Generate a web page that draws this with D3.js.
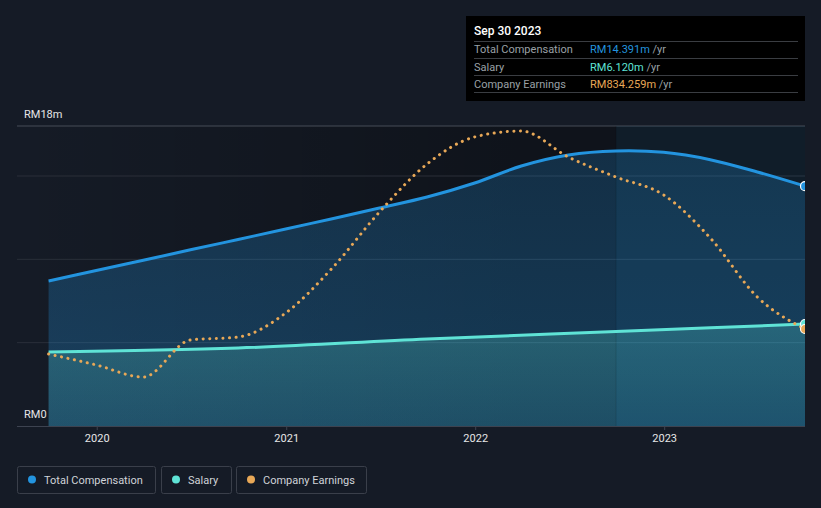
<!DOCTYPE html>
<html><head><meta charset="utf-8">
<script src="https://cdn.jsdelivr.net/npm/d3@7"></script>
<style>
html,body{margin:0;padding:0;background:#151b26;}
svg{display:block;font-family:Roboto,"Noto Sans",sans-serif;}
</style></head>
<body>
<svg id="chart" width="821" height="508"></svg>
<script>
// ---- data ----
const dates = ["2019-09-30","2019-12-31","2020-03-31","2020-06-30","2020-09-30","2020-12-31","2021-03-31","2021-06-30","2021-09-30","2021-12-31","2022-03-31","2022-06-30","2022-09-30","2022-12-31","2023-03-31","2023-06-30","2023-09-30"];
const totalComp = [8.70,9.33,9.94,10.57,11.19,11.82,12.44,13.08,13.74,14.58,15.60,16.26,16.50,16.42,15.98,15.24,14.391];
const salaryDates = ["2019-09-30","2020-09-30","2021-09-30","2022-09-30","2023-09-30"];
const salary = [4.44,4.68,5.22,5.67,6.12];
const earnings = [619,525,421,740,765,972,1359,1840,2253,2486,2537,2313,2141,1987,1617,1109,834.259];
const yTicks = [0,5,10,15,18];
const yLabels = ["RM0","RM18m"];
const xTickYears = [2020,2021,2022,2023];
const seriesNames = ["Total Compensation","Salary","Company Earnings"];
const seriesColors = ["#2394df","#5fe3d6","#e8a857"];

const parse = d3.timeParse("%Y-%m-%d");
const svg = d3.select("#chart");
const L = 17, R = 805, T = 126, B = 426;

const x = d3.scaleTime().domain([parse("2019-07-31"), parse("2023-09-30")]).range([L, R]);
const y = d3.scaleLinear().domain([0, 18]).range([B, T]);
const yE = d3.scaleLinear().domain([0, 2580]).range([B, T]);

const defs = svg.append("defs");
defs.append("clipPath").attr("id","clip").append("rect")
  .attr("x", L).attr("y", 0).attr("width", R - L).attr("height", B);
const gBg = defs.append("linearGradient").attr("id","bgGrad").attr("x1",0).attr("x2",1).attr("y1",0).attr("y2",0);
gBg.append("stop").attr("offset","0%").attr("stop-color","#000").attr("stop-opacity",0);
gBg.append("stop").attr("offset","65%").attr("stop-color","#000").attr("stop-opacity",0.3);
gBg.append("stop").attr("offset","100%").attr("stop-color","#000").attr("stop-opacity",0.3);
const gTot = defs.append("linearGradient").attr("id","totGrad").attr("x1",0).attr("x2",0).attr("y1",0).attr("y2",1);
gTot.append("stop").attr("offset","0%").attr("stop-color","#2394df").attr("stop-opacity",0.22);
gTot.append("stop").attr("offset","100%").attr("stop-color","#2394df").attr("stop-opacity",0.3);
const gSal = defs.append("linearGradient").attr("id","salGrad").attr("x1",0).attr("x2",0).attr("y1",0).attr("y2",1);
gSal.append("stop").attr("offset","0%").attr("stop-color","#5fe3d6").attr("stop-opacity",0.25);
gSal.append("stop").attr("offset","100%").attr("stop-color","#5fe3d6").attr("stop-opacity",0.12);

// plot background shading
svg.append("rect").attr("x", L).attr("y", T).attr("width", R - L).attr("height", B - T).attr("fill","url(#bgGrad)");

// gridlines
svg.append("g").selectAll("line").data(yTicks.filter(d => d > 0)).join("line")
  .attr("x1", L).attr("x2", R).attr("y1", d => y(d)).attr("y2", d => y(d))
  .attr("stroke", d => d === 18 ? "#474c56" : "#2a2f39").attr("stroke-width", 1);

const plot = svg.append("g").attr("clip-path","url(#clip)");

const totData = dates.map((d,i) => ({d: parse(d), v: totalComp[i]}));
const salData = salaryDates.map((d,i) => ({d: parse(d), v: salary[i]}));
const earnData = dates.map((d,i) => ({d: parse(d), v: earnings[i]}));

const curve = d3.curveMonotoneX;
const curveT = d3.curveCatmullRom.alpha(0.5);
plot.append("path").datum(totData)
  .attr("d", d3.area().x(d => x(d.d)).y0(y(0)).y1(d => y(d.v)).curve(curveT))
  .attr("fill","url(#totGrad)");
plot.append("path").datum(salData)
  .attr("d", d3.area().x(d => x(d.d)).y0(y(0)).y1(d => y(d.v)).curve(curve))
  .attr("fill","url(#salGrad)");

// highlight last year
const hx = x(parse("2022-09-30"));
plot.append("rect").attr("x", hx).attr("y", T).attr("width", R - hx).attr("height", B - T)
  .attr("fill","#2394df").attr("opacity",0.08);
plot.append("line").attr("x1", hx).attr("x2", hx).attr("y1", T).attr("y2", B)
  .attr("stroke","#000").attr("stroke-opacity",0.12);

plot.append("path").datum(totData)
  .attr("d", d3.line().x(d => x(d.d)).y(d => y(d.v)).curve(curveT))
  .attr("fill","none").attr("stroke", seriesColors[0]).attr("stroke-width",3);
plot.append("path").datum(salData)
  .attr("d", d3.line().x(d => x(d.d)).y(d => y(d.v)).curve(curve))
  .attr("fill","none").attr("stroke", seriesColors[1]).attr("stroke-width",3);
plot.append("path").datum(earnData)
  .attr("d", d3.line().x(d => x(d.d)).y(d => yE(d.v)).curve(curve))
  .attr("fill","none").attr("stroke", seriesColors[2]).attr("stroke-width",3)
  .attr("stroke-dasharray","0.1 6.5").attr("stroke-linecap","round");

// end markers
const lastT = totData[totData.length-1], lastS = salData[salData.length-1], lastE = earnData[earnData.length-1];
[[x(lastT.d), y(lastT.v), seriesColors[0]],[x(lastS.d), y(lastS.v), seriesColors[1]],[x(lastE.d), yE(lastE.v), seriesColors[2]]]
  .forEach(p => plot.append("circle").attr("cx", p[0]).attr("cy", p[1]).attr("r",4.5)
    .attr("fill", p[2]).attr("stroke","#fff").attr("stroke-width",1.2));

// x axis
const xAxis = d3.axisBottom(x).tickValues(xTickYears.map(yr => new Date(yr,0,1)))
  .tickFormat(d3.timeFormat("%Y")).tickSize(4).tickPadding(4);
const gx = svg.append("g").attr("transform",`translate(0,${B})`).call(xAxis);
gx.select(".domain").attr("stroke","#3d4350").attr("d", `M${L},0.5H${R}`);
gx.selectAll(".tick line").attr("stroke","#3d4350");
gx.selectAll(".tick text").attr("fill","#e6e6e6").attr("font-size",11).attr("font-family","Roboto, sans-serif");

// y labels
svg.append("g").selectAll("text").data([0,18]).join("text")
  .attr("x", 24).attr("y", d => y(d) - 8).attr("fill","#e6e6e6").attr("font-size",11)
  .text((d,i) => yLabels[i]);

// tooltip
const tip = svg.append("g");
tip.append("rect").attr("x",466).attr("y",16).attr("width",339).attr("height",85).attr("fill","#000");
tip.append("text").attr("x",474).attr("y",35).attr("fill","#fff").attr("font-size",12).attr("font-weight",500).text("Sep 30 2023");
const tipVals = ["RM14.391m","RM6.120m","RM834.259m"];
[41,58,75,92].forEach(yy => tip.append("line").attr("x1",474).attr("x2",798).attr("y1",yy+0.5).attr("y2",yy+0.5).attr("stroke","#3a3d42"));
seriesNames.forEach((n,i) => {
  const yy = 53 + i*17.5;
  tip.append("text").attr("x",474).attr("y",yy).attr("fill","#9aa0a6").attr("font-size",11).text(n);
  const t = tip.append("text").attr("x",590).attr("y",yy).attr("font-size",11);
  t.append("tspan").attr("fill",seriesColors[i]).text(tipVals[i]);
  t.append("tspan").attr("fill","#9aa0a6").text(" /yr");
});

// legend
const legX = [17,161,236], legW = [138,70,130];
const leg = svg.append("g");
seriesNames.forEach((n,i) => {
  leg.append("rect").attr("x",legX[i]+0.5).attr("y",466.5).attr("width",legW[i]).attr("height",27).attr("rx",2)
    .attr("fill","none").attr("stroke","#3a3f4a");
  leg.append("circle").attr("cx",legX[i]+15).attr("cy",479.5).attr("r",4).attr("fill",seriesColors[i]);
  leg.append("text").attr("x",legX[i]+27).attr("y",483.5).attr("fill","#d0d3d8").attr("font-size",11).text(n);
});
</script>
</body></html>
